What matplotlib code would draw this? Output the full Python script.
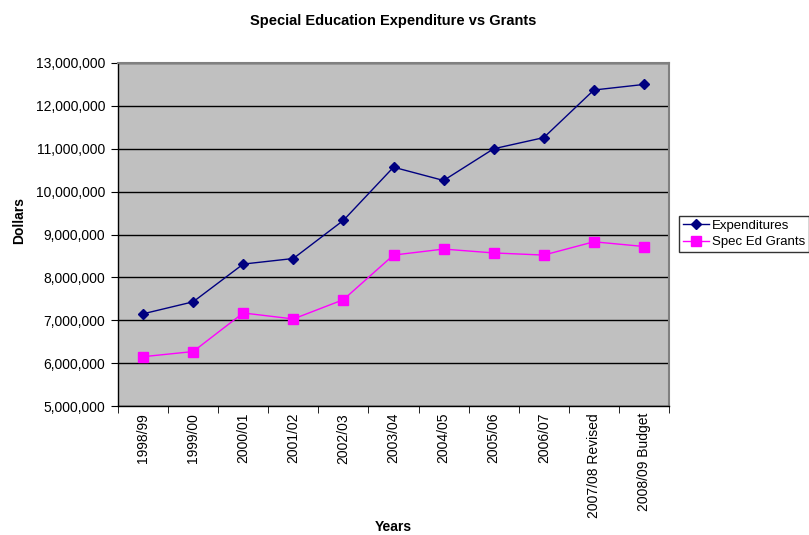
import matplotlib
matplotlib.use("Agg")
import matplotlib.pyplot as plt
from matplotlib.ticker import FuncFormatter, FixedLocator
import numpy as np

plt.rcParams['font.family'] = ['Liberation Sans', 'DejaVu Sans']

years = ['1998/99', '1999/00', '2000/01', '2001/02', '2002/03', '2003/04',
         '2004/05', '2005/06', '2006/07', '2007/08 Revised', '2008/09 Budget']
expenditures = [7150000, 7430000, 8310000, 8440000, 9330000, 10570000,
                10260000, 11000000, 11260000, 12370000, 12500000]
grants = [6150000, 6270000, 7170000, 7030000, 7480000, 8520000,
          8660000, 8570000, 8520000, 8830000, 8720000]

fig = plt.figure(figsize=(8.09, 5.35), dpi=100)
ax = fig.add_axes([118/809, 1 - 406/535, (669-118)/809, (406-63)/535])
ax.set_facecolor('#C0C0C0')

x = np.arange(len(years))
ax.plot(x, expenditures, color='#000080', marker='D', markersize=5,
        linewidth=1, label='Expenditures')
ax.plot(x, grants, color='#FF00FF', marker='s', markersize=6.5,
        linewidth=1, label='Spec Ed Grants')

ax.set_xlim(-0.5, len(years) - 0.5)
ax.set_ylim(5000000, 13000000)
ax.set_yticks(np.arange(5000000, 13000001, 1000000))
ax.yaxis.set_major_formatter(FuncFormatter(lambda v, p: f'{int(v):,}'))
ax.grid(axis='y', color='black', linewidth=1)
ax.set_axisbelow(True)

# category labels at centres, tick marks between categories
ax.set_xticks(x)
ax.set_xticklabels(years, rotation=90, fontsize=10)
ax.tick_params(axis='x', which='major', length=0, pad=5)
ax.xaxis.set_minor_locator(FixedLocator(np.arange(-0.5, len(years), 1.0)))
ax.tick_params(axis='x', which='minor', length=5, direction='out', color='black')
ax.tick_params(axis='y', labelsize=10, length=5, direction='out', pad=4)

for side in ['top', 'right']:
    ax.spines[side].set_color('#808080')
    ax.spines[side].set_linewidth(1.5)
for side in ['left', 'bottom']:
    ax.spines[side].set_color('black')
    ax.spines[side].set_linewidth(1)

ax.set_title('Special Education Expenditure vs Grants', fontsize=10.5,
             fontweight='bold', pad=27)
ax.set_xlabel('Years', fontsize=10, fontweight='bold', labelpad=2)
ax.set_ylabel('Dollars', fontsize=10, fontweight='bold')
ax.yaxis.set_label_coords(-0.166, 0.54)

leg = fig.legend(loc='center left', bbox_to_anchor=(679/809, 1 - 234/535),
                 fontsize=9.5, frameon=True, fancybox=False, borderpad=0.3,
                 handlelength=2.0, handletextpad=0.2, labelspacing=0.3,
                 borderaxespad=0)
leg.get_frame().set_edgecolor('black')
leg.get_frame().set_linewidth(1)

plt.savefig('out.png', dpi=100)
